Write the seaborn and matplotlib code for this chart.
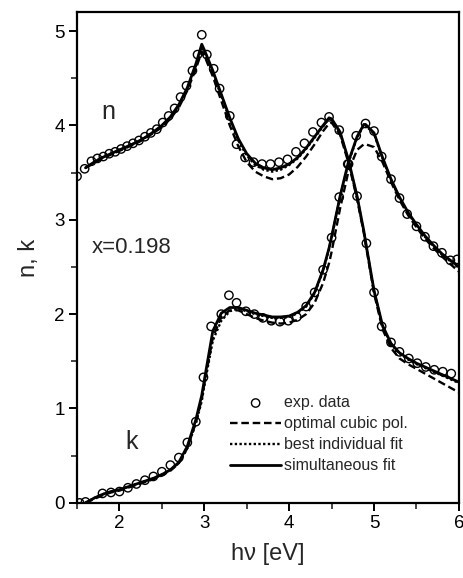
import numpy as np
import pandas as pd
import seaborn as sns
import matplotlib
matplotlib.use("Agg")
import matplotlib.pyplot as plt
from matplotlib.ticker import MultipleLocator

sns.set_style("ticks")
plt.rcParams["font.family"] = ["Liberation Sans", "DejaVu Sans"]

# ---- experimental data (circles) ----
n_exp_x = [1.50, 1.59, 1.67, 1.74, 1.81, 1.88, 1.95, 2.02, 2.09, 2.16, 2.23, 2.30,
           2.37, 2.44, 2.51, 2.58, 2.65, 2.72, 2.79, 2.86, 2.92, 2.97, 3.03, 3.11,
           3.18, 3.30, 3.38, 3.48, 3.58, 3.68, 3.78, 3.88, 3.98, 4.08, 4.18, 4.28,
           4.38, 4.47, 4.59, 4.70, 4.80, 4.91, 5.00, 5.09, 5.20, 5.30, 5.41, 5.51,
           5.61, 5.71, 5.81, 5.91]
n_exp_y = [3.46, 3.54, 3.62, 3.65, 3.67, 3.70, 3.72, 3.75, 3.78, 3.81, 3.84, 3.88,
           3.92, 3.96, 4.03, 4.10, 4.18, 4.30, 4.42, 4.58, 4.75, 4.96, 4.75, 4.60,
           4.39, 4.10, 3.80, 3.66, 3.61, 3.59, 3.59, 3.61, 3.64, 3.72, 3.81, 3.93,
           4.03, 4.09, 3.95, 3.59, 3.25, 2.75, 2.23, 1.87, 1.70, 1.60, 1.53, 1.48,
           1.44, 1.41, 1.39, 1.37]

k_exp_x = [1.53, 1.60, 1.80, 1.90, 2.00, 2.10, 2.20, 2.30, 2.40, 2.50, 2.60, 2.70,
           2.80, 2.90, 2.99, 3.08, 3.20, 3.29, 3.38, 3.49, 3.59, 3.69, 3.79, 3.89,
           3.99, 4.09, 4.20, 4.30, 4.40, 4.50, 4.59, 4.69, 4.79, 4.90, 5.00, 5.09,
           5.20, 5.30, 5.39, 5.50, 5.60, 5.70, 5.80, 5.90, 5.98]
k_exp_y = [0.00, 0.01, 0.10, 0.11, 0.12, 0.16, 0.20, 0.24, 0.28, 0.33, 0.40, 0.48,
           0.64, 0.86, 1.33, 1.87, 2.00, 2.20, 2.12, 2.03, 2.00, 1.96, 1.93, 1.92,
           1.93, 1.97, 2.08, 2.23, 2.47, 2.81, 3.24, 3.59, 3.89, 4.02, 3.94, 3.67,
           3.43, 3.23, 3.06, 2.93, 2.82, 2.72, 2.65, 2.57, 2.58]

# ---- model curves ----
fit_x = [1.60, 1.70, 1.80, 1.90, 2.00, 2.10, 2.20, 2.30, 2.40, 2.50, 2.60, 2.70,
         2.80, 2.90, 2.97, 3.00, 3.10, 3.20, 3.30, 3.40, 3.50, 3.60, 3.70, 3.80,
         3.90, 4.00, 4.10, 4.20, 4.30, 4.40, 4.47, 4.50, 4.60, 4.70, 4.80, 4.88,
         4.90, 5.00, 5.10, 5.20, 5.30, 5.40, 5.50, 5.60, 5.70, 5.80, 5.90, 6.00]

# simultaneous fit
n_sim = [3.55, 3.61, 3.66, 3.70, 3.74, 3.78, 3.82, 3.87, 3.93, 4.00, 4.09, 4.22,
         4.40, 4.65, 4.86, 4.80, 4.58, 4.33, 4.08, 3.86, 3.70, 3.60, 3.55, 3.53,
         3.55, 3.59, 3.66, 3.76, 3.88, 4.00, 4.08, 4.07, 3.93, 3.63, 3.25, 2.88,
         2.77, 2.25, 1.88, 1.69, 1.59, 1.53, 1.48, 1.44, 1.40, 1.36, 1.32, 1.28]
k_sim = [0.00, 0.05, 0.09, 0.12, 0.14, 0.17, 0.20, 0.23, 0.26, 0.30, 0.35, 0.43,
         0.60, 0.88, 1.14, 1.30, 1.82, 2.01, 2.07, 2.07, 2.04, 2.01, 1.99, 1.97,
         1.97, 1.98, 2.02, 2.09, 2.23, 2.47, 2.70, 2.82, 3.25, 3.62, 3.88, 4.01,
         4.01, 3.92, 3.66, 3.43, 3.24, 3.08, 2.95, 2.83, 2.73, 2.64, 2.57, 2.50]

# optimal cubic polynomial
n_cub = [3.55, 3.60, 3.65, 3.69, 3.73, 3.77, 3.81, 3.86, 3.92, 3.98, 4.07, 4.19,
         4.37, 4.60, 4.78, 4.74, 4.52, 4.26, 4.00, 3.78, 3.61, 3.51, 3.46, 3.43,
         3.44, 3.48, 3.56, 3.67, 3.80, 3.94, 4.02, 4.03, 3.90, 3.60, 3.22, 2.86,
         2.75, 2.22, 1.84, 1.64, 1.53, 1.47, 1.42, 1.37, 1.32, 1.27, 1.22, 1.17]
k_cub = [0.00, 0.04, 0.08, 0.11, 0.13, 0.16, 0.19, 0.22, 0.25, 0.29, 0.34, 0.42,
         0.58, 0.85, 1.10, 1.26, 1.75, 1.97, 2.04, 2.04, 2.00, 1.96, 1.93, 1.91,
         1.90, 1.91, 1.94, 2.00, 2.12, 2.33, 2.54, 2.66, 3.12, 3.52, 3.74, 3.80,
         3.80, 3.77, 3.61, 3.40, 3.21, 3.05, 2.92, 2.80, 2.70, 2.61, 2.53, 2.45]

# best individual fit
n_ind = [3.55, 3.61, 3.66, 3.70, 3.74, 3.78, 3.82, 3.87, 3.93, 3.99, 4.08, 4.21,
         4.39, 4.63, 4.81, 4.77, 4.56, 4.31, 4.06, 3.84, 3.68, 3.58, 3.53, 3.51,
         3.53, 3.58, 3.65, 3.75, 3.87, 3.99, 4.07, 4.06, 3.92, 3.62, 3.24, 2.87,
         2.76, 2.24, 1.87, 1.68, 1.58, 1.52, 1.47, 1.43, 1.39, 1.35, 1.31, 1.27]
k_ind = [0.00, 0.05, 0.09, 0.12, 0.14, 0.17, 0.20, 0.23, 0.26, 0.30, 0.35, 0.42,
         0.58, 0.84, 1.08, 1.24, 1.72, 1.93, 2.03, 2.06, 2.03, 2.00, 1.98, 1.96,
         1.96, 1.97, 2.01, 2.08, 2.22, 2.46, 2.69, 2.81, 3.24, 3.61, 3.87, 4.00,
         4.00, 3.91, 3.65, 3.42, 3.23, 3.07, 2.94, 2.82, 2.72, 2.63, 2.56, 2.49]

fig = plt.figure(figsize=(4.64, 5.78), dpi=100)
ax = fig.add_axes([0.166, 0.130, 0.823, 0.849])

lw = 1.7
for ys, lab in [(n_cub, "optimal cubic pol."), (k_cub, None)]:
    sns.lineplot(x=fit_x, y=ys, ax=ax, color="black", lw=lw,
                 linestyle=(0, (3.2, 1.6)), label=lab, sort=False)
for ys, lab in [(n_ind, "best individual fit"), (k_ind, None)]:
    sns.lineplot(x=fit_x, y=ys, ax=ax, color="black", lw=lw,
                 linestyle=(0, (1.0, 1.0)), label=lab, sort=False)
for ys, lab in [(n_sim, "simultaneous fit"), (k_sim, None)]:
    sns.lineplot(x=fit_x, y=ys, ax=ax, color="black", lw=lw + 0.3,
                 linestyle="-", label=lab, sort=False)

exp_df = pd.DataFrame({"x": n_exp_x + k_exp_x, "y": n_exp_y + k_exp_y})
sns.scatterplot(data=exp_df, x="x", y="y", ax=ax, marker="o", s=36,
                facecolor="none", edgecolor="black", linewidth=1.0,
                label="exp. data", zorder=5)

ax.set_xlim(1.5, 6.0)
ax.set_ylim(0, 5.2)
ax.xaxis.set_major_locator(MultipleLocator(1))
ax.xaxis.set_minor_locator(MultipleLocator(0.5))
ax.yaxis.set_major_locator(MultipleLocator(1))
ax.yaxis.set_minor_locator(MultipleLocator(0.5))
ax.tick_params(which="major", direction="out", length=6, width=1.4,
               labelsize=13.5, colors="black", pad=3)
ax.tick_params(which="minor", direction="out", length=4, width=1.2)
for sp in ax.spines.values():
    sp.set_linewidth(1.6)
    sp.set_color("black")
    sp.set_visible(True)

ax.set_xlabel("h\u03bd [eV]", fontsize=17, labelpad=8)
ax.set_ylabel("n, k", fontsize=17, labelpad=10)

ax.text(1.87, 4.14, "n", fontsize=18, ha="center", va="center")
ax.text(1.67, 2.71, "x=0.198", fontsize=16, ha="left", va="center")
ax.text(2.14, 0.64, "k", fontsize=18, ha="center", va="center")

handles, labels = ax.get_legend_handles_labels()
order = [labels.index(l) for l in ["exp. data", "optimal cubic pol.",
                                   "best individual fit", "simultaneous fit"]]
ax.legend([handles[i] for i in order], [labels[i] for i in order],
          loc="lower right", bbox_to_anchor=(0.882, 0.047), frameon=False,
          fontsize=11.5, handlelength=3.2, handletextpad=0.15,
          labelspacing=0.38, borderaxespad=0.0)

fig.savefig("out.png", dpi=100)
